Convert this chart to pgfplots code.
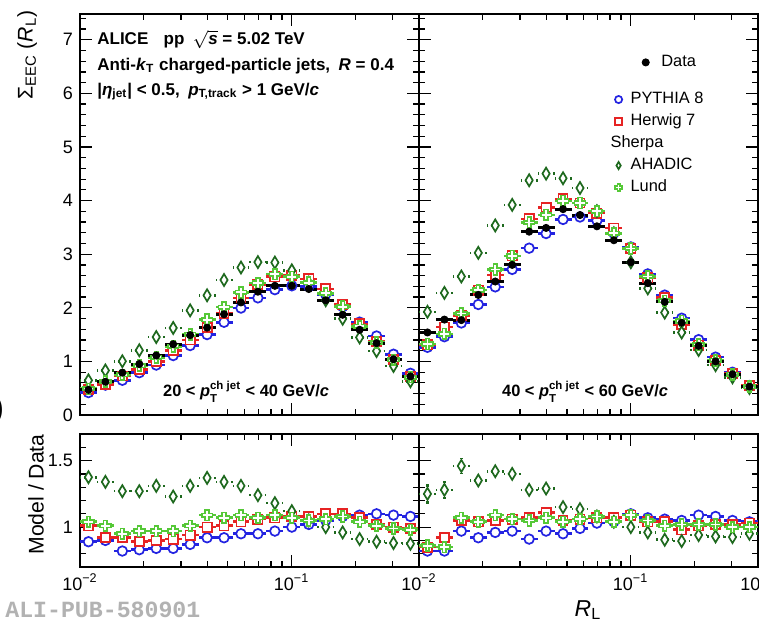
\documentclass[border=0pt]{standalone}
\usepackage{fontspec}
\setmainfont{Liberation Sans}
\newfontfamily\alimono{Liberation Mono}
\usepackage{amsmath}
\usepackage{pgfplots}
\pgfplotsset{compat=1.18}
\usepackage{pgfplotstable}

\definecolor{pyblue}{RGB}{35,35,225}
\definecolor{hwred}{RGB}{230,35,35}
\definecolor{ahgreen}{RGB}{30,105,30}
\definecolor{lugreen}{RGB}{85,200,55}

\pgfdeclareplotmark{ocross}{%
  \pgfpathmoveto{\pgfqpoint{-0.33\pgfplotmarksize}{\pgfplotmarksize}}%
  \pgfpathlineto{\pgfqpoint{0.33\pgfplotmarksize}{\pgfplotmarksize}}%
  \pgfpathlineto{\pgfqpoint{0.33\pgfplotmarksize}{0.33\pgfplotmarksize}}%
  \pgfpathlineto{\pgfqpoint{\pgfplotmarksize}{0.33\pgfplotmarksize}}%
  \pgfpathlineto{\pgfqpoint{\pgfplotmarksize}{-0.33\pgfplotmarksize}}%
  \pgfpathlineto{\pgfqpoint{0.33\pgfplotmarksize}{-0.33\pgfplotmarksize}}%
  \pgfpathlineto{\pgfqpoint{0.33\pgfplotmarksize}{-\pgfplotmarksize}}%
  \pgfpathlineto{\pgfqpoint{-0.33\pgfplotmarksize}{-\pgfplotmarksize}}%
  \pgfpathlineto{\pgfqpoint{-0.33\pgfplotmarksize}{-0.33\pgfplotmarksize}}%
  \pgfpathlineto{\pgfqpoint{-\pgfplotmarksize}{-0.33\pgfplotmarksize}}%
  \pgfpathlineto{\pgfqpoint{-\pgfplotmarksize}{0.33\pgfplotmarksize}}%
  \pgfpathlineto{\pgfqpoint{-0.33\pgfplotmarksize}{0.33\pgfplotmarksize}}%
  \pgfpathclose
  \pgfusepathqfillstroke
}
\pgfdeclareplotmark{tdiamond}{%
  \pgfpathmoveto{\pgfqpoint{0pt}{\pgfplotmarksize}}%
  \pgfpathlineto{\pgfqpoint{0.6\pgfplotmarksize}{0pt}}%
  \pgfpathlineto{\pgfqpoint{0pt}{-\pgfplotmarksize}}%
  \pgfpathlineto{\pgfqpoint{-0.6\pgfplotmarksize}{0pt}}%
  \pgfpathclose
  \pgfusepathqfillstroke
}

% 20 < pT < 40 GeV/c
\pgfplotstableread{
x d dy py hw ah lu rpy rhw rah rlu rahe
0.010965 0.47 0.02 0.418 0.475 0.646 0.489 0.89 1.01 1.375 1.04 0.03
0.013186 0.62 0.02 0.558 0.570 0.831 0.626 0.90 0.92 1.34 1.01 0.02
0.015856 0.79 0.02 0.648 0.727 1.003 0.751 0.82 0.92 1.27 0.95 0.02
0.019067 0.95 0.02 0.789 0.846 1.207 0.922 0.83 0.89 1.27 0.97 0.02
0.022928 1.11 0.02 0.932 0.999 1.454 1.077 0.84 0.90 1.31 0.97 0.02
0.027571 1.32 0.03 1.109 1.201 1.624 1.280 0.84 0.91 1.23 0.97 0.02
0.033155 1.49 0.03 1.296 1.401 1.952 1.505 0.87 0.94 1.31 1.01 0.02
0.039869 1.63 0.03 1.500 1.630 2.233 1.777 0.92 1.00 1.37 1.09 0.02
0.047942 1.88 0.03 1.730 1.899 2.519 2.012 0.92 1.01 1.34 1.07 0.015
0.057651 2.10 0.03 1.995 2.184 2.751 2.289 0.95 1.04 1.31 1.09 0.015
0.069326 2.30 0.03 2.185 2.438 2.852 2.461 0.95 1.06 1.24 1.07 0.015
0.083365 2.41 0.03 2.338 2.579 2.844 2.627 0.97 1.07 1.18 1.09 0.015
0.100248 2.41 0.03 2.410 2.603 2.699 2.579 1.00 1.08 1.12 1.07 0.015
0.120550 2.35 0.03 2.397 2.538 2.468 2.468 1.02 1.08 1.05 1.05 0.01
0.144960 2.14 0.03 2.247 2.354 2.140 2.268 1.05 1.10 1.00 1.06 0.01
0.174320 1.87 0.03 2.020 2.057 1.795 2.020 1.08 1.10 0.96 1.08 0.01
0.209620 1.59 0.03 1.733 1.700 1.447 1.654 1.09 1.07 0.91 1.04 0.01
0.252070 1.34 0.02 1.474 1.367 1.193 1.353 1.10 1.02 0.89 1.01 0.01
0.303120 1.04 0.02 1.134 1.040 0.915 1.030 1.09 1.00 0.88 0.99 0.01
0.364500 0.72 0.02 0.778 0.713 0.630 0.706 1.08 0.99 0.875 0.98 0.01
}\tabL

% 40 < pT < 60 GeV/c
\pgfplotstableread{
x d dy py hw ah lu rpy rhw rah rlu rahe
0.010965 1.54 0.06 1.263 1.309 1.925 1.324 0.82 0.85 1.25 0.86 0.075
0.013186 1.78 0.06 1.460 1.638 2.278 1.513 0.82 0.92 1.28 0.85 0.07
0.015856 1.77 0.05 1.717 1.859 2.584 1.894 0.97 1.05 1.46 1.07 0.06
0.019067 2.24 0.05 2.061 2.330 3.024 2.330 0.92 1.04 1.35 1.04 0.04
0.022928 2.49 0.05 2.390 2.615 3.536 2.714 0.96 1.05 1.42 1.09 0.04
0.027571 2.80 0.05 2.716 2.968 3.920 2.968 0.97 1.06 1.40 1.06 0.03
0.033155 3.42 0.06 3.112 3.659 4.378 3.591 0.91 1.07 1.28 1.05 0.02
0.039869 3.49 0.06 3.385 3.874 4.502 3.734 0.97 1.11 1.29 1.07 0.02
0.047942 3.84 0.06 3.648 4.032 4.416 3.994 0.95 1.05 1.15 1.04 0.02
0.057651 3.73 0.05 3.693 3.954 4.234 3.954 0.99 1.06 1.135 1.06 0.02
0.069326 3.52 0.05 3.626 3.766 3.802 3.802 1.03 1.07 1.08 1.08 0.02
0.083365 3.26 0.05 3.390 3.488 3.390 3.390 1.04 1.07 1.04 1.04 0.01
0.100248 2.85 0.04 3.135 3.107 2.850 3.107 1.10 1.09 1.00 1.09 0.01
0.120550 2.46 0.04 2.632 2.558 2.362 2.583 1.07 1.04 0.96 1.05 0.01
0.144960 2.11 0.03 2.237 2.194 1.910 2.131 1.06 1.04 0.905 1.01 0.01
0.174320 1.72 0.03 1.806 1.686 1.539 1.754 1.05 0.98 0.895 1.02 0.01
0.209620 1.29 0.03 1.406 1.303 1.213 1.316 1.09 1.01 0.94 1.02 0.01
0.252070 1.00 0.02 1.080 1.020 0.930 1.020 1.08 1.02 0.93 1.02 0.01
0.303120 0.76 0.02 0.798 0.775 0.703 0.760 1.05 1.02 0.925 1.00 0.01
0.364500 0.53 0.02 0.551 0.546 0.504 0.530 1.04 1.03 0.95 1.00 0.01
}\tabR

\tikzset{txt/.style={font=\fontsize{8.5bp}{10bp}\selectfont\bfseries, inner sep=0pt},
         txtb/.style={font=\fontsize{8.2bp}{10bp}\selectfont\bfseries, inner sep=0pt}}

\pgfplotsset{
  every axis/.append style={
    scale only axis, xmode=log, xmin=0.01, xmax=0.4, width=169.5bp,
    axis line style={line width=0.8bp},
    every tick/.style={line width=0.6bp, black},
    major tick length=6bp, minor tick length=3bp, tick align=inside,
    xtick={0.01,0.1},
    minor xtick={0.02,0.03,0.04,0.05,0.06,0.07,0.08,0.09,0.2,0.3},
    tick label style={font=\fontsize{9bp}{10bp}\selectfont},
    /pgf/number format/assume math mode=true,
    legend image code/.code={\draw[#1, mark size=1.8bp] plot coordinates {(0bp,0bp)};},
  },
  toppanel/.style={height=200.5bp, ymin=0, ymax=7.48, ytick={0,1,2,3,4,5,6,7},
    minor ytick={0.2,0.4,...,7.4}, xticklabels={}},
  ratpanel/.style={height=66.5bp, ymin=0.7, ymax=1.7, ytick={1,1.5},
    minor ytick={0.8,0.9,1.1,1.2,1.3,1.4,1.6},
    xticklabels={10\textsuperscript{−2},10\textsuperscript{−1}}},
  binx/.style={error bars/x dir=both, error bars/x explicit relative, error bars/error mark=none},
  dst/.style={only marks, mark=*, mark size=1.8bp, black, binx,
    error bars/y dir=both, error bars/y explicit,
    error bars/error bar style={line width=1.5bp, black}},
  pyst/.style={only marks, mark=*, mark size=2.4bp, pyblue,
    mark options={fill=white, draw=pyblue, line width=0.85bp, solid}, binx,
    error bars/error bar style={line width=1.3bp, pyblue}},
  hwst/.style={only marks, mark=square*, mark size=2.3bp, hwred,
    mark options={fill=white, draw=hwred, line width=0.85bp, solid}, binx,
    error bars/error bar style={line width=1.3bp, hwred}},
  ahst/.style={only marks, mark=tdiamond, mark size=3bp, ahgreen,
    mark options={fill=white, draw=ahgreen, line width=0.85bp, solid}, binx,
    error bars/error bar style={line width=1.3bp, ahgreen, dash pattern=on 2bp off 1.5bp}},
  lust/.style={only marks, mark=ocross, mark size=2.7bp, lugreen,
    mark options={fill=white, draw=lugreen, line width=0.85bp, solid}, binx,
    error bars/error bar style={line width=1.3bp, lugreen}},
}

\begin{document}
\begin{tikzpicture}
\useasboundingbox (0,0) rectangle (379.5bp,-311.5bp);

% ---------- top left ----------
\begin{axis}[toppanel, at={(40bp,-7bp)}, anchor=north west,
  ylabel={Σ\textsubscript{EEC} (\textit{R}\textsubscript{L})},
  ylabel style={at={(axis description cs:-0.156,1.01)}, anchor=east,
    font=\fontsize{10.6bp}{12bp}\selectfont, inner sep=0pt}]
\addplot[pyst] table[x=x, y=py, x error plus expr=0.0966, x error minus expr=0.0881]{\tabL};
\addplot[hwst] table[x=x, y=hw, x error plus expr=0.0966, x error minus expr=0.0881]{\tabL};
\addplot[ahst] table[x=x, y=ah, x error plus expr=0.0966, x error minus expr=0.0881]{\tabL};
\addplot[lust] table[x=x, y=lu, x error plus expr=0.0966, x error minus expr=0.0881]{\tabL};
\addplot[dst] table[x=x, y=d, y error=dy, x error plus expr=0.0966, x error minus expr=0.0881]{\tabL};
\node[txt, anchor=base west] at (rel axis cs:0.05,0.923) {ALICE\hspace{0.9em}pp\hspace{0.5em}$\sqrt{\mbox{\textit{s}}}$ = 5.02 TeV};
\node[txt, anchor=base west] at (rel axis cs:0.05,0.860) {Anti-\textit{k}\textsubscript{T} charged-particle jets,\enspace\textit{R} = 0.4};
\node[txt, anchor=base west] at (rel axis cs:0.05,0.798) {|\textit{η}\textsubscript{jet}| < 0.5,\enspace\textit{p}\textsubscript{T,track} > 1 GeV/\textit{c}};
\node[txtb, anchor=base] at (rel axis cs:0.49,0.045) {20 < \textit{p}$^{\text{ch jet}}_{\text{T}}$ < 40 GeV/\textit{c}};
\end{axis}

% ---------- top right ----------
\begin{axis}[toppanel, at={(209.5bp,-7bp)}, anchor=north west, yticklabels={},
  legend style={at={(0.657,0.908)}, anchor=north west, draw=none, fill=none,
    font=\fontsize{8.2bp}{10bp}\selectfont, inner sep=0pt,
    /tikz/every odd column/.append style={column sep=4bp}}]
\addplot[pyst, forget plot] table[x=x, y=py, x error plus expr=0.0966, x error minus expr=0.0881]{\tabR};
\addplot[hwst, forget plot] table[x=x, y=hw, x error plus expr=0.0966, x error minus expr=0.0881]{\tabR};
\addplot[ahst, forget plot] table[x=x, y=ah, x error plus expr=0.0966, x error minus expr=0.0881]{\tabR};
\addplot[lust, forget plot] table[x=x, y=lu, x error plus expr=0.0966, x error minus expr=0.0881]{\tabR};
\addplot[dst] table[x=x, y=d, y error=dy, x error plus expr=0.0966, x error minus expr=0.0881]{\tabR};
\addlegendentry{Data}
\node[txtb, anchor=base] at (rel axis cs:0.49,0.045) {40 < \textit{p}$^{\text{ch jet}}_{\text{T}}$ < 60 GeV/\textit{c}};
\end{axis}

% ---------- bottom left ----------
\begin{axis}[ratpanel, at={(40bp,-217bp)}, anchor=north west,
  ylabel={Model / Data},
  ylabel style={at={(axis description cs:-0.13,1.0)}, anchor=east,
    font=\fontsize{10.6bp}{12bp}\selectfont, inner sep=0pt}]
\addplot[pyst] table[x=x, y=rpy, x error plus expr=0.0966, x error minus expr=0.0881]{\tabL};
\addplot[hwst] table[x=x, y=rhw, x error plus expr=0.0966, x error minus expr=0.0881]{\tabL};
\addplot[ahst, error bars/y dir=both, error bars/y explicit] table[x=x, y=rah, y error=rahe, x error plus expr=0.0966, x error minus expr=0.0881]{\tabL};
\addplot[lust] table[x=x, y=rlu, x error plus expr=0.0966, x error minus expr=0.0881]{\tabL};
\end{axis}

% ---------- bottom right ----------
\begin{axis}[ratpanel, at={(209.5bp,-217bp)}, anchor=north west, yticklabels={},
  extra x ticks={0.4}, extra x tick labels={10\textsuperscript{−2}},
  extra x tick style={major tick length=0pt},
  legend style={at={(0.577,3.587)}, anchor=north west, draw=none, fill=none,
    font=\fontsize{8.2bp}{10bp}\selectfont, inner sep=0pt, row sep=1.8bp,
    nodes={inner sep=0.6bp, text height=6.2bp, text depth=1.8bp},
    /tikz/every odd column/.append style={column sep=3.6bp}},
  legend cell align=left]
\addplot[pyst] table[x=x, y=rpy, x error plus expr=0.0966, x error minus expr=0.0881]{\tabR};
\addlegendentry{PYTHIA 8}
\addplot[hwst] table[x=x, y=rhw, x error plus expr=0.0966, x error minus expr=0.0881]{\tabR};
\addlegendentry{Herwig 7}
\addlegendimage{empty legend}
\addlegendentry{\hspace*{-10bp}Sherpa}
\addplot[ahst, error bars/y dir=both, error bars/y explicit] table[x=x, y=rah, y error=rahe, x error plus expr=0.0966, x error minus expr=0.0881]{\tabR};
\addlegendentry{AHADIC}
\addplot[lust] table[x=x, y=rlu, x error plus expr=0.0966, x error minus expr=0.0881]{\tabR};
\addlegendentry{Lund}
\end{axis}

\node[font=\fontsize{11.5bp}{13bp}\selectfont, inner sep=0pt] at (294bp,-305bp) {\textit{R}\textsubscript{L}};
\node[anchor=west, inner sep=0pt, text=black!30, font=\fontsize{11.6bp}{13bp}\selectfont\alimono\bfseries] at (2.5bp,-305bp) {ALI-PUB-580901};
\node[anchor=west, inner sep=0pt, font=\fontsize{16bp}{18bp}\selectfont] at (-3.5bp,-205bp) {)};
\end{tikzpicture}
\end{document}
